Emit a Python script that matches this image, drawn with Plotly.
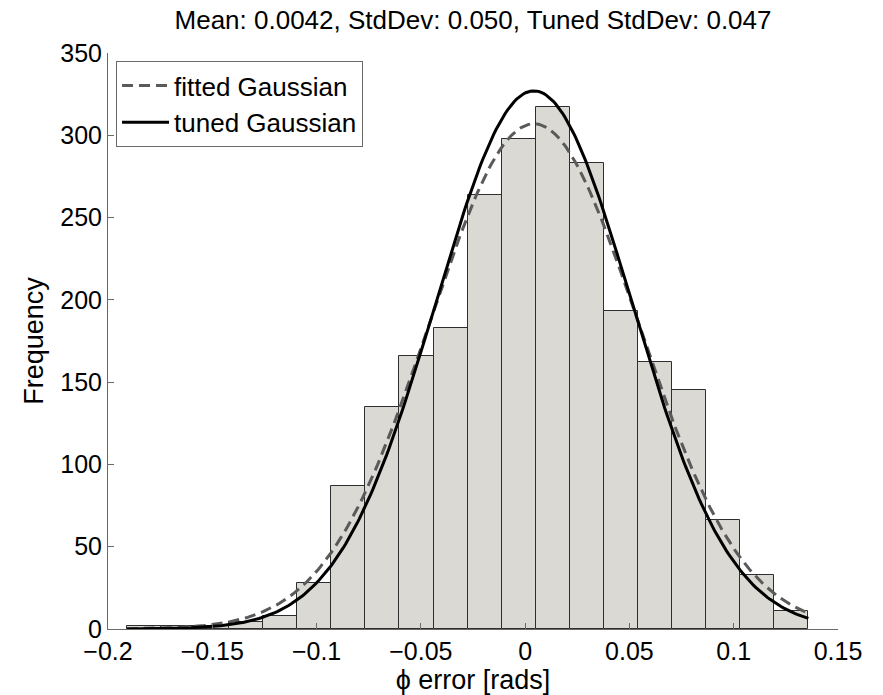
import numpy as np
import plotly.graph_objects as go

# ---- data ----
bin_edges_first = -0.191
bin_width = 0.01634
counts = [2, 2, 2, 4, 8, 28, 87, 135, 166, 183, 264, 298, 317, 283, 193, 162, 145, 66, 33, 11]

mean_val = 0.0042
std_fit = 0.050
std_tuned = 0.047
peak_fit = 307
peak_tuned = 327

title_text = "Mean: 0.0042, StdDev: 0.050, Tuned StdDev: 0.047"
x_tickvals = [-0.2, -0.15, -0.1, -0.05, 0, 0.05, 0.1, 0.15]
x_ticktext = ["\u22120.2", "\u22120.15", "\u22120.1", "\u22120.05", "0", "0.05", "0.1", "0.15"]
y_tickvals = [0, 50, 100, 150, 200, 250, 300, 350]

# ---- derived ----
n = len(counts)
centers = [bin_edges_first + bin_width * (i + 0.5) for i in range(n)]
x_lo = bin_edges_first
x_hi = bin_edges_first + bin_width * n
xs = np.linspace(x_lo, x_hi, 300)
y_fit = peak_fit * np.exp(-((xs - mean_val) ** 2) / (2 * std_fit ** 2))
y_tuned = peak_tuned * np.exp(-((xs - mean_val) ** 2) / (2 * std_tuned ** 2))

FONT = "Liberation Sans, Arial, Helvetica, sans-serif"
AXC = "#6a6a6a"

fig = go.Figure()
fig.add_trace(go.Bar(
    x=centers, y=counts, width=bin_width,
    marker=dict(color="#dbd9d3", line=dict(color="#2e2e2e", width=1)),
    showlegend=False, hoverinfo="skip",
))
fig.add_trace(go.Scatter(
    x=xs, y=y_fit, mode="lines", name="fitted Gaussian",
    line=dict(color="#5a5a5a", width=3, dash="11px,6px"),
))
fig.add_trace(go.Scatter(
    x=xs, y=y_tuned, mode="lines", name="tuned Gaussian",
    line=dict(color="#000000", width=3),
))

fig.update_layout(
    width=883, height=695,
    margin=dict(l=108, r=45, t=53, b=66, pad=0),
    paper_bgcolor="white", plot_bgcolor="white",
    font=dict(family=FONT, size=25, color="black"),
    bargap=0,
    title=dict(text=title_text, x=0.5357, xanchor="center", y=0.972, yanchor="middle",
               font=dict(family=FONT, size=26, color="black")),
    legend=dict(x=0.011, y=0.986, xanchor="left", yanchor="top",
                bgcolor="white", bordercolor=AXC, borderwidth=1,
                font=dict(family=FONT, size=26, color="black"),
                tracegroupgap=0, itemwidth=47),
    xaxis=dict(range=[-0.2, 0.15], tickvals=x_tickvals, ticktext=x_ticktext,
               ticks="inside", ticklen=6, tickcolor=AXC, tickwidth=1,
               showline=True, linecolor=AXC, linewidth=1, mirror=False,
               showgrid=False, zeroline=False,
               tickfont=dict(family=FONT, size=25, color="black"),
               title=dict(text="\u03d5 error [rads]", standoff=0,
                          font=dict(family=FONT, size=27, color="black"))),
    yaxis=dict(range=[0, 350], tickvals=y_tickvals,
               ticks="inside", ticklen=6, tickcolor=AXC, tickwidth=1,
               showline=True, linecolor=AXC, linewidth=1, mirror=False,
               showgrid=False, zeroline=False,
               tickfont=dict(family=FONT, size=25, color="black"),
               title=dict(text="Frequency", standoff=8,
                          font=dict(family=FONT, size=27, color="black"))),
)

fig.write_html("out.html")
